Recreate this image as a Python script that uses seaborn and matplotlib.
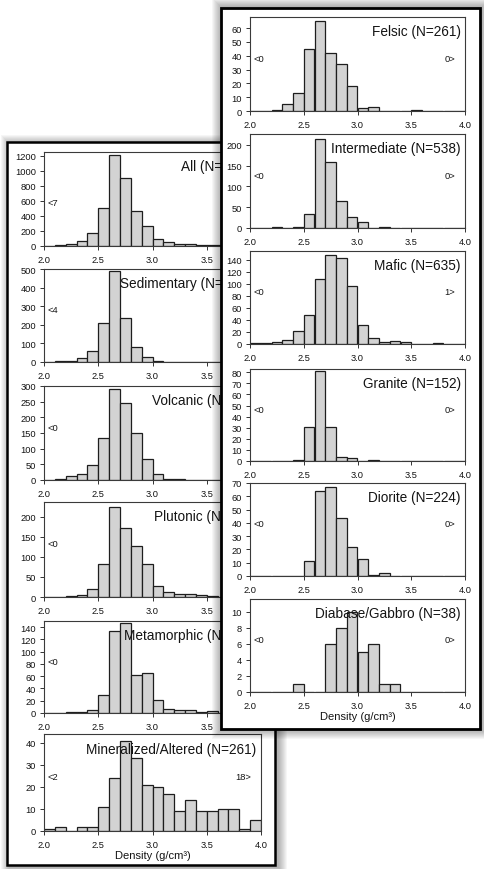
import numpy as np
import pandas as pd
import matplotlib
matplotlib.use("Agg")
import matplotlib.pyplot as plt
import seaborn as sns
from matplotlib.patches import Rectangle

# ---------------- data (counts per 0.1 g/cm3 bin, 2.0 .. 4.0) ----------------
bin_edges = [2.0, 2.1, 2.2, 2.3, 2.4, 2.5, 2.6, 2.7, 2.8, 2.9, 3.0,
             3.1, 3.2, 3.3, 3.4, 3.5, 3.6, 3.7, 3.8, 3.9, 4.0]

# right column
felsic       = [0, 0, 1, 5, 13, 45, 65, 42, 34, 18, 2, 3, 0, 0, 0, 1, 0, 0, 0, 0]
intermediate = [0, 0, 2, 0, 2, 34, 214, 158, 64, 26, 14, 0, 2, 0, 0, 0, 0, 0, 0, 0]
mafic        = [1, 1, 4, 7, 21, 48, 109, 148, 144, 97, 32, 10, 4, 5, 4, 0, 0, 2, 0, 0]
granite      = [0, 0, 0, 0, 1, 31, 81, 31, 4, 3, 0, 1, 0, 0, 0, 0, 0, 0, 0, 0]
diorite      = [0, 0, 0, 0, 0, 11, 64, 67, 44, 22, 13, 1, 2, 0, 0, 0, 0, 0, 0, 0]
diabase      = [0, 0, 0, 0, 1, 0, 0, 6, 8, 10, 5, 6, 1, 1, 0, 0, 0, 0, 0, 0]

# left column
all_rocks    = [0, 12, 30, 65, 178, 502, 1210, 898, 462, 267, 98, 53, 30, 27, 18, 10, 12, 12, 3, 8]
sedimentary  = [0, 3, 5, 20, 61, 211, 487, 238, 79, 27, 5, 0, 0, 0, 0, 0, 0, 0, 0, 0]
volcanic     = [0, 2, 13, 18, 48, 135, 292, 247, 151, 66, 19, 3, 2, 0, 0, 0, 0, 0, 0, 0]
plutonic     = [0, 0, 2, 4, 20, 82, 225, 172, 126, 82, 27, 12, 7, 7, 4, 2, 0, 0, 0, 0]
metamorphic  = [0, 0, 1, 1, 5, 30, 133, 147, 62, 65, 21, 7, 5, 5, 2, 3, 0, 0, 0, 0]
mineralized  = [1, 2, 0, 2, 2, 11, 24, 41, 33, 21, 20, 17, 9, 14, 9, 9, 10, 10, 1, 5]

right_titles = ["Felsic (N=261)", "Intermediate (N=538)", "Mafic (N=635)",
                "Granite (N=152)", "Diorite (N=224)", "Diabase/Gabbro (N=38)"]
left_titles = ["All (N=3902)", "Sedimentary (N=1140)", "Volcanic (N=996)",
               "Plutonic (N=777)", "Metamorphic (N=487)", "Mineralized/Altered (N=261)"]

right_below = ["<0", "<0", "<0", "<0", "<0", "<0"]
right_above = ["0>", "0>", "1>", "0>", "0>", "0>"]
left_below = ["<7", "<4", "<0", "<0", "<0", "<2"]
left_above = ["", "", "", "", "", "18>"]   # the others are hidden by the front panel

right_ytick_max = [60, 200, 140, 80, 70, 10]
right_ytick_step = [10, 50, 20, 10, 10, 2]
left_ytick_max = [1200, 500, 300, 200, 140, 40]
left_ytick_step = [200, 100, 50, 50, 20, 10]
x_ticks = [2.0, 2.5, 3.0, 3.5, 4.0]
x_tick_labels = ["2.0", "2.5", "3.0", "3.5", "4.0"]
x_label = "Density (g/cm³)"

# ---------------- layout (pixels) ----------------
W, H = 484, 870
right_ylim = [68, 226, 155, 83, 70, 11.6]
left_ylim = [1250, 500, 300, 237, 150, 44]
right_rows = [(18, 112), (135, 229), (252, 345), (370, 462), (484, 577), (600, 693)]
left_rows = [(153, 247), (270, 363), (387, 481), (503, 598), (622, 714), (735, 832)]
right_x = (250, 465)
left_x = (44, 261)

sns.set_style("ticks")
plt.rcParams['font.family'] = ['Liberation Sans', 'DejaVu Sans']

fig = plt.figure(figsize=(W / 100, H / 100), dpi=100)
fig.patch.set_facecolor('white')


def fr(x0, y0, x1, y1):
    return [x0 / W, 1 - y1 / H, (x1 - x0) / W, (y1 - y0) / H]


def rect(x0, y0, x1, y1, **kw):
    r = Rectangle((x0 / W, 1 - y1 / H), (x1 - x0) / W, (y1 - y0) / H,
                  transform=fig.transFigure, **kw)
    fig.add_artist(r)
    return r


def shadow(x0, y0, x1, y1, z, spread=9, dx=1, dy=1):
    for i in range(spread, 0, -1):
        rect(x0 - i + dx, y0 - i + dy, x1 + i + dx, y1 + i + dy,
             facecolor='black', edgecolor='none', alpha=0.035, zorder=z)


centers = [round((a + b) / 2, 3) for a, b in zip(bin_edges[:-1], bin_edges[1:])]

bar_face = '#d3d3d3'
bar_edge = '#1e1e1e'
txt = '#141414'


def panel(pos, counts, ylim, ymax, ystep, title, below, above, z, xlabel=False,
          below_y=0.56, hide_last_xlabel=False, clip_x=None):
    ax = fig.add_axes(fr(pos[0], pos[1], pos[2], pos[3]))
    ax.set_zorder(z)
    ax.set_facecolor('white')
    df = pd.DataFrame({"density": centers, "count": counts})
    sns.histplot(data=df, x="density", weights="count", bins=bin_edges, ax=ax,
                 color=bar_face, edgecolor=bar_edge, linewidth=0.9, alpha=1.0)
    ax.set_xlim(2.0, 4.0)
    ax.set_ylim(0, ylim)
    ax.set_xticks(x_ticks)
    labels = list(x_tick_labels)
    if hide_last_xlabel:
        labels[-1] = ""
    ax.set_xticklabels(labels)
    ax.set_yticks(list(range(0, ymax + 1, ystep)))
    ax.set_ylabel("")
    ax.set_xlabel(x_label if xlabel else "", fontsize=8, color=txt, labelpad=1)
    ax.tick_params(axis='both', direction='out', length=3.2, width=0.7,
                   labelsize=6.7, colors='#333333', labelcolor=txt)
    ax.tick_params(axis='x', pad=3)
    ax.tick_params(axis='y', pad=2.5)
    for s in ax.spines.values():
        s.set_visible(True)
        s.set_color('#3a3a3a')
        s.set_linewidth(0.8)
    t = ax.text(0.98, 0.85, title, transform=ax.transAxes, ha='right', va='center',
                fontsize=9.8, color=txt, zorder=5)
    if clip_x is not None:
        clip = Rectangle((0, 0), clip_x / W, 1, transform=fig.transFigure)
        t.set_clip_path(clip)
    ax.text(0.015, below_y, below, transform=ax.transAxes, ha='left', va='center',
            fontsize=6.7, color=txt, zorder=5)
    if above:
        ax.text(0.955, 0.56, above, transform=ax.transAxes, ha='right', va='center',
                fontsize=6.7, color=txt, zorder=5)
    return ax


# ---------------- left (back) panel ----------------
LB = (7, 143, 275, 866)
shadow(*LB, z=0.05, spread=9, dx=3, dy=2)
rect(*LB, facecolor='white', edgecolor='none', zorder=0.1)
left_data = [all_rocks, sedimentary, volcanic, plutonic, metamorphic, mineralized]
for i in range(6):
    y0, y1 = left_rows[i]
    covered = i < 5
    panel((left_x[0], y0, left_x[1], y1), left_data[i],
          left_ylim[i], left_ytick_max[i], left_ytick_step[i], left_titles[i],
          left_below[i], left_above[i], z=0.5, xlabel=(i == 5),
          below_y=0.46 if i == 0 else 0.56, hide_last_xlabel=covered,
          clip_x=220 if covered else None)
rect(*LB, facecolor='none', edgecolor='black', linewidth=1.8, zorder=0.6)

# ---------------- right (front) panel ----------------
RB = (221, 9, 480, 730)
shadow(*RB, z=0.7, spread=10, dx=1, dy=0)
rect(*RB, facecolor='white', edgecolor='none', zorder=0.8)
right_data = [felsic, intermediate, mafic, granite, diorite, diabase]
for i in range(6):
    y0, y1 = right_rows[i]
    panel((right_x[0], y0, right_x[1], y1), right_data[i],
          right_ylim[i], right_ytick_max[i], right_ytick_step[i], right_titles[i],
          right_below[i], right_above[i], z=0.9, xlabel=(i == 5))
rect(*RB, facecolor='none', edgecolor='black', linewidth=2.0, zorder=1.0)

fig.savefig("out.png", dpi=100, facecolor='white')
